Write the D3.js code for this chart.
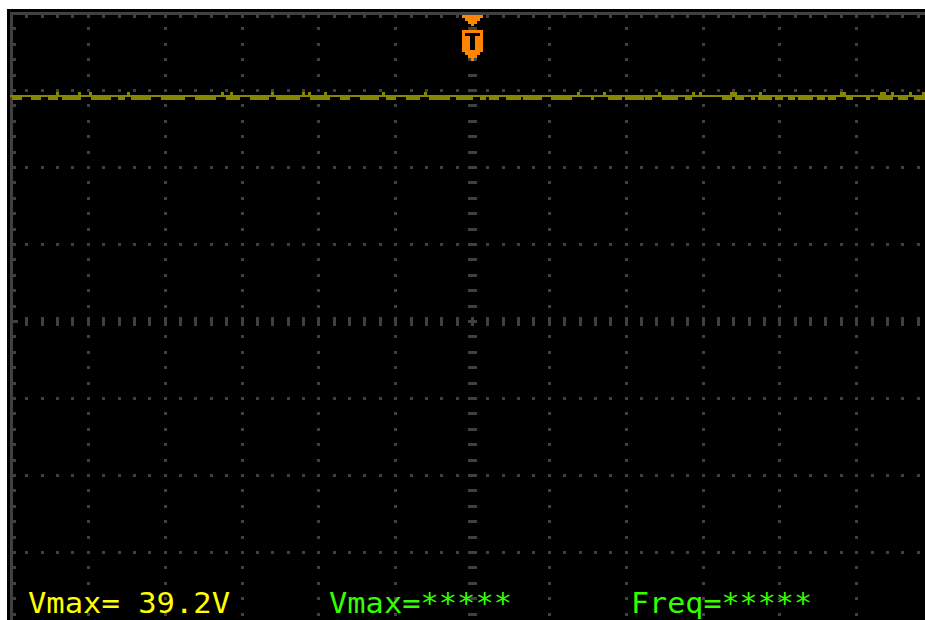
<!DOCTYPE html>
<html>
<head>
<meta charset="utf-8">
<script src="https://cdn.jsdelivr.net/npm/d3@7"></script>
<style>
  html, body { margin: 0; padding: 0; background: #ffffff; }
  svg { display: block; }
</style>
</head>
<body>
<script>
// ---------- DATA ----------
// Screen: 12 horizontal divisions x 8 vertical divisions (values in divisions)
const xDivisions = [0, 12];
const yDivisions = [-4, 4];
const minorPerDiv = 5;
const triggerPos = [6];          // trigger marker position (div)
const traceLevel = [2.93];       // flat DC trace level (div)
const traceLow = [2.877];        // lower edge of noise blobs (div)
const traceHigh = [2.98];        // top of noise spikes (div)
// noise blobs below the trace: [start, end] in divisions
const traceDips = [
  [0.00,0.14],[0.25,0.38],[0.48,0.61],[0.66,0.90],[1.03,1.29],[1.39,1.48],[1.55,1.81],
  [1.94,2.26],[2.39,2.66],[2.79,2.98],[3.11,3.35],[3.44,3.76],[3.89,4.15],[4.28,4.41],
  [4.54,4.78],[4.87,5.00],[5.13,5.32],[5.43,5.71],[5.78,6.01],[6.10,6.17],[6.21,6.34],
  [6.43,6.63],[6.66,6.91],[7.02,7.30],[7.54,7.58],[7.76,7.95],[7.99,8.23],[8.25,8.34],
  [8.47,8.68],[8.77,8.86],[9.25,9.38],[9.42,9.53],[9.62,9.68],[9.72,9.90],[9.94,10.04],
  [10.10,10.20],[10.24,10.43],[10.49,10.59],[10.63,10.73],[10.86,10.95],[11.12,11.18],
  [11.28,11.47],[11.54,11.67],[11.74,11.90]
];
// noise spikes above the trace: centre (div) and width (div)
const spikeX = [0.60,0.89,1.03,1.52,2.75,2.86,3.40,3.80,3.88,4.09,4.84,5.39,7.38,7.72,
  8.43,8.88,8.97,9.40,9.75,10.82,11.34,11.47,11.70,11.87];
const spikeW = [0.04,0.04,0.04,0.04,0.04,0.04,0.04,0.04,0.04,0.04,0.04,0.04,0.04,0.04,
  0.04,0.04,0.04,0.09,0.04,0.08,0.08,0.04,0.04,0.04];
// readouts
const readoutLabels = ["Vmax= 39.2V", "Vmax=*****", "Freq=*****"];
const readoutColors = ["#ffff00", "#33ff00", "#33ff00"];
const readoutX = [28, 329, 631];
const readoutW = [202, 183, 181];

// ---------- DRAW ----------
(function () {
const W = 925, H = 620;
const svg = d3.select("body").append("svg").attr("width", W).attr("height", H)
  .attr("shape-rendering", "crispEdges");

svg.append("rect").attr("x", 0).attr("y", 0).attr("width", W).attr("height", H).attr("fill", "#ffffff");
svg.append("rect").attr("x", 7).attr("y", 9).attr("width", W - 7).attr("height", H - 9).attr("fill", "#000000");

const x = d3.scaleLinear().domain(xDivisions).range([11.5, 933.5]);
const y = d3.scaleLinear().domain(yDivisions).range([629.5, 13.5]);
const grey = "#404040";
const g = svg.append("g");

// border lines (left and top)
g.append("rect").attr("x", x(0) - 1.5).attr("y", y(4) - 1.5).attr("width", 3).attr("height", H).attr("fill", grey);
g.append("rect").attr("x", x(0) - 1.5).attr("y", y(4) - 1.5).attr("width", W).attr("height", 3).attr("fill", grey);

const xMinor = d3.range(1, 12 * minorPerDiv).map(i => i / minorPerDiv);
const yMinor = d3.range(1, 8 * minorPerDiv).map(i => -4 + i / minorPerDiv);

// dotted vertical gridlines
const vMajors = d3.range(1, 12).filter(d => d !== 6);
vMajors.forEach(k => {
  g.selectAll(null).data(yMinor).enter().append("rect")
    .attr("x", x(k) - 1.5).attr("y", d => y(d) - 1.5).attr("width", 3).attr("height", 3).attr("fill", grey);
});
// dotted horizontal gridlines
const hMajors = d3.range(-3, 4).filter(d => d !== 0);
hMajors.forEach(k => {
  g.selectAll(null).data(xMinor).enter().append("rect")
    .attr("x", d => x(d) - 1.5).attr("y", y(k) - 1.5).attr("width", 3).attr("height", 3).attr("fill", grey);
});
// border ticks
g.selectAll(null).data(xMinor).enter().append("rect")
  .attr("x", d => x(d) - 1.5).attr("y", y(4) + 1.5).attr("width", 3).attr("height", 3).attr("fill", grey);
g.selectAll(null).data(yMinor).enter().append("rect")
  .attr("x", x(0) + 1.5).attr("y", d => y(d) - 1.5).attr("width", d => Math.abs(d) < 1e-9 ? 5 : 3).attr("height", 3).attr("fill", grey);
// centre horizontal axis: vertical tick bars
g.selectAll(null).data(xMinor).enter().append("rect")
  .attr("x", d => x(d) - 1.5).attr("y", y(0) - 4.5).attr("width", 3).attr("height", 9).attr("fill", grey);
// centre vertical axis: horizontal tick bars
g.selectAll(null).data(yMinor).enter().append("rect")
  .attr("x", x(6) - 4.5).attr("y", d => y(d) - 1.5).attr("width", 9).attr("height", 3).attr("fill", grey);

// ---------- trace ----------
const olive = "#868600";
const tg = svg.append("g").attr("fill", olive);
tg.append("rect").attr("x", x(0) - 1.5).attr("y", y(traceLevel[0]) - 1)
  .attr("width", W).attr("height", 2);
tg.selectAll(null).data(traceDips).enter().append("rect")
  .attr("x", d => Math.max(x(d[0]), x(0) - 1.5)).attr("y", y(traceLevel[0]))
  .attr("width", d => x(d[1]) - Math.max(x(d[0]), x(0) - 1.5))
  .attr("height", y(traceLow[0]) - y(traceLevel[0]));
tg.selectAll(null).data(spikeX).enter().append("rect")
  .attr("x", (d, i) => x(d - spikeW[i] / 2)).attr("y", y(traceHigh[0]))
  .attr("width", (d, i) => x(spikeW[i]) - x(0))
  .attr("height", y(traceLevel[0]) - y(traceHigh[0]));

// ---------- trigger marker ----------
const orange = "#ff8400";
const cx = x(triggerPos[0]);
const mTop = y(4) + 1.5;
const tri = svg.append("g").attr("fill", orange);
[[0, 3, 10.5], [3, 3, 7.5], [6, 3, 4.5], [9, 2, 1.5]].forEach(r => {
  tri.append("rect").attr("x", cx - r[2]).attr("y", mTop + r[0]).attr("width", r[2] * 2).attr("height", r[1]);
});
const sTop = mTop + 15;
tri.append("rect").attr("x", cx - 10.5).attr("y", sTop).attr("width", 21).attr("height", 22);
[[22, 3, 7.5], [25, 3, 4.5], [28, 3, 1.5]].forEach(r => {
  tri.append("rect").attr("x", cx - r[2]).attr("y", sTop + r[0]).attr("width", r[2] * 2).attr("height", r[1]);
});
svg.append("rect").attr("x", cx - 7.5).attr("y", sTop + 3).attr("width", 15).attr("height", 3).attr("fill", "#000");
svg.append("rect").attr("x", cx - 2.5).attr("y", sTop + 6).attr("width", 5).attr("height", 14).attr("fill", "#000");

// ---------- readouts ----------
svg.selectAll("text.readout").data(readoutLabels).enter().append("text")
  .attr("class", "readout")
  .attr("x", (d, i) => readoutX[i]).attr("y", 613)
  .attr("textLength", (d, i) => readoutW[i]).attr("lengthAdjust", "spacingAndGlyphs")
  .attr("font-family", "'DejaVu Sans Mono', monospace").attr("font-size", 29)
  .attr("fill", (d, i) => readoutColors[i])
  .attr("xml:space", "preserve")
  .style("white-space", "pre")
  .text(d => d);
})();
</script>
</body>
</html>
